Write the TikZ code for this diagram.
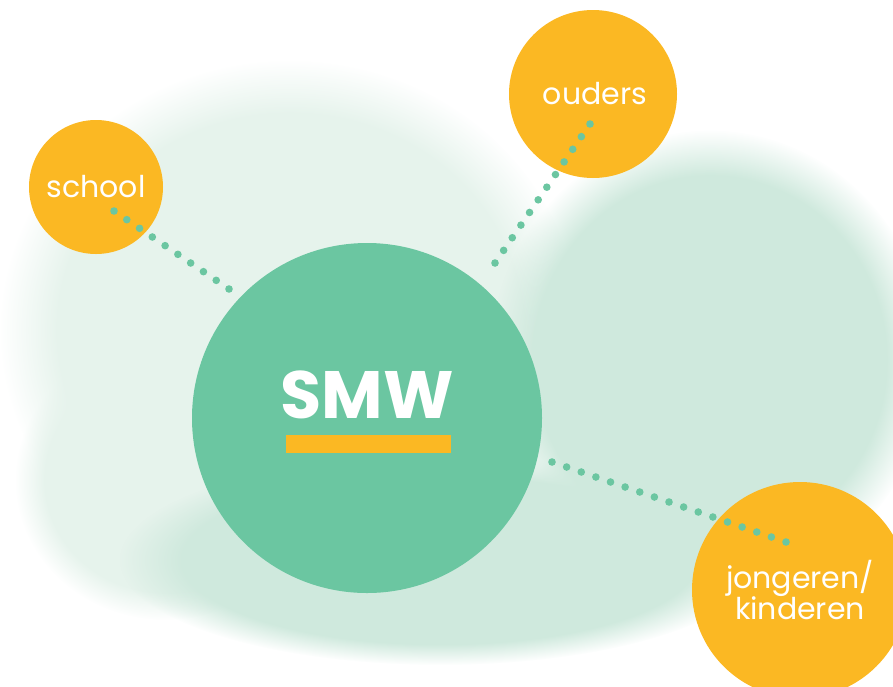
\documentclass[tikz,border=0pt]{standalone}
\usepackage{fontspec}
\setmainfont{Poppins}
\usetikzlibrary{positioning,calc,fadings}
\definecolor{smwgreen}{HTML}{6BC6A1}
\definecolor{smworange}{HTML}{FBB823}
\definecolor{washdark}{HTML}{CFE9DD}
\definecolor{washlight}{HTML}{E6F3EC}

\begin{document}
\begin{tikzpicture}[x=1pt, y=-1pt,
  hub/.style={circle, fill=smwgreen, minimum size=350pt, inner sep=0pt},
  satellite/.style={circle, fill=smworange, text=white, inner sep=0pt,
    align=center, font=\fontsize{30}{30}\selectfont},
  wash/.style={path fading=circle with fuzzy edge 20 percent},
  beads/.style={fill=smwgreen}]
\path[use as bounding box, clip] (0,0) rectangle (893,686);

% watercolour wash
\fill[washlight, wash] (290,330) ellipse [x radius=290pt, y radius=270pt];
\fill[washlight, wash] (165,480) ellipse [x radius=150pt, y radius=140pt];
\fill[washdark, wash] (710,360) ellipse [x radius=220pt, y radius=230pt];
\fill[washdark, wash] (440,560) ellipse [x radius=320pt, y radius=105pt];

\node[hub] (smw) at (367,418) {};
\node[text=white, font=\bfseries\fontsize{67}{67}\selectfont] (smwlabel) at (367,395) {SMW};
\node[fill=smworange, minimum width=165pt, minimum height=18pt, inner sep=0pt] (bar) at (368.5,444) {};

\node[satellite, minimum size=134pt] (school) at (96,187) {school};
\node[satellite, minimum size=168pt] (ouders) at (593,94) {\hspace*{4pt}ouders};
\node[satellite, minimum size=216pt] (jongeren) at (800,590) {jongeren/\\kinderen};

\coordinate (schooldot) at (114,211);
\coordinate (schoolend) at (229,289);
\coordinate (oudersdot) at (590,124);
\coordinate (oudersend) at (495,263);
\coordinate (jongdot) at (786,542);
\coordinate (jongend) at (552,462);

\foreach \a/\b/\n in {schooldot/schoolend/9, oudersdot/oudersend/11, jongdot/jongend/16}
  \foreach \i in {0,...,\n}
    \fill[beads] ($(\a)!\i/\n!(\b)$) circle (3.8pt);
\end{tikzpicture}
\end{document}
